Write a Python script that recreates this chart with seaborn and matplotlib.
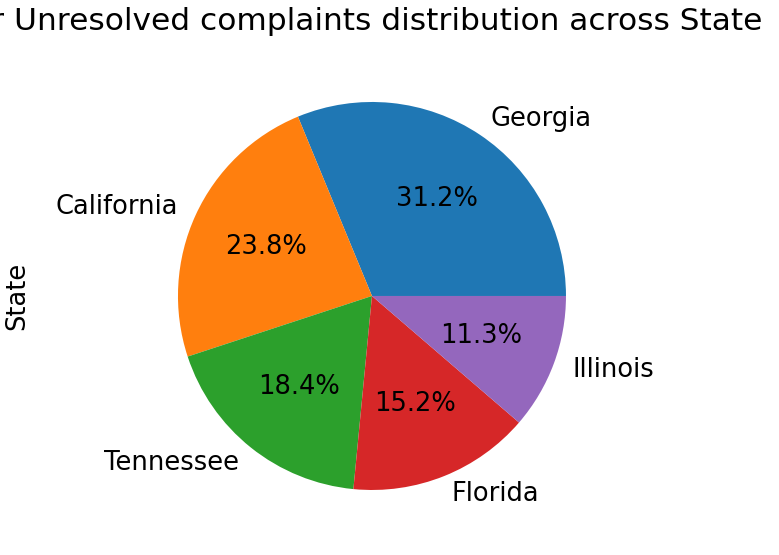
import matplotlib
matplotlib.use("Agg")
import matplotlib.pyplot as plt
import seaborn as sns

# top states by unresolved complaints (share in %)
states = ["Georgia", "California", "Tennessee", "Florida", "Illinois"]
shares = [31.2, 23.8, 18.4, 15.2, 11.3]

colors = sns.color_palette("tab10", len(states))

fig = plt.figure(figsize=(7.79, 5.55), dpi=100)
ax = fig.add_axes([0.1662, 0.0297, 0.6226, 0.874])

ax.pie(shares, labels=states, colors=colors, autopct="%1.1f%%",
       textprops={"fontsize": 18.5})
ax.set_ylabel("State", fontsize=18.5)
ax.yaxis.set_label_coords(-0.204, 0.5)
ax.set_title("for Unresolved complaints distribution across State",
             fontsize=22.5, pad=17, x=1.304, ha="right")

fig.savefig("out.png", dpi=100)
